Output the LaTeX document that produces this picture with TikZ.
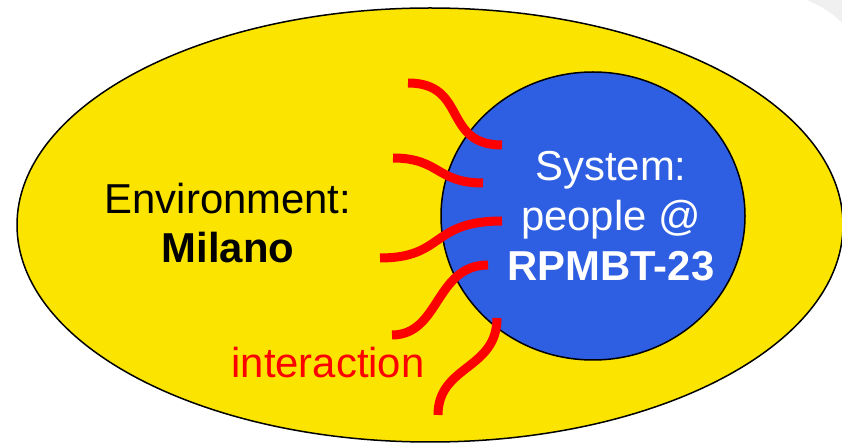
\documentclass[tikz,border=0pt]{standalone}
\usepackage{fontspec}
\setmainfont{Liberation Sans}
\definecolor{envyellow}{RGB}{250,228,0}
\definecolor{sysblue}{RGB}{46,94,225}
\definecolor{cornergray}{RGB}{240,240,240}
\tikzset{
  wire/.style={draw=red,line width=9bp},
  bigtext/.style={font=\fontsize{42}{50}\selectfont,inner sep=0pt,align=center},
}
\begin{document}
\begin{tikzpicture}[line join=bevel]
  \useasboundingbox (0bp,0bp) rectangle (842bp,443bp);
  \pgfsetlinewidth{1.5bp}
%%
  % Node: Corner
  \fill [cornergray] (807bp,443bp) .. controls (820bp,437bp) and (832bp,431bp) .. (842bp,420bp) -- (842bp,443bp) -- cycle;
  % Node: Environment
\begin{scope}
  \filldraw [fill=envyellow,draw=black] (430bp,218bp) ellipse (413bp and 217bp);
  \node [bigtext] (envlabel) at (228bp,220bp) {Environment:\\\textbf{Milano}};
\end{scope}
  % Node: System
\begin{scope}
  \filldraw [fill=sysblue,draw=black] (593bp,227bp) ellipse (152bp and 144bp);
  \node [bigtext,text=white] (syslabel) at (611bp,227bp) {System:\\people @\\\textbf{RPMBT-23}};
\end{scope}
  % Edge: Environment -> System
  \draw [wire] (408bp,360bp) .. controls (468bp,360bp) and (442bp,298bp) .. (502bp,298bp);
  \draw [wire] (393bp,285bp) .. controls (440bp,285bp) and (436bp,260bp) .. (483bp,260bp);
  \draw [wire] (380bp,185bp) .. controls (445bp,185bp) and (430bp,222bp) .. (502bp,222bp);
  \draw [wire] (392bp,108bp) .. controls (440bp,108bp) and (435bp,178bp) .. (488bp,178bp);
  \draw [wire] (438bp,28bp) .. controls (438bp,78bp) and (497bp,73bp) .. (497bp,125bp);
  \node [bigtext,text=red,anchor=base] (interaction) at (328bp,65bp) {interaction};
%
\end{tikzpicture}
\end{document}
